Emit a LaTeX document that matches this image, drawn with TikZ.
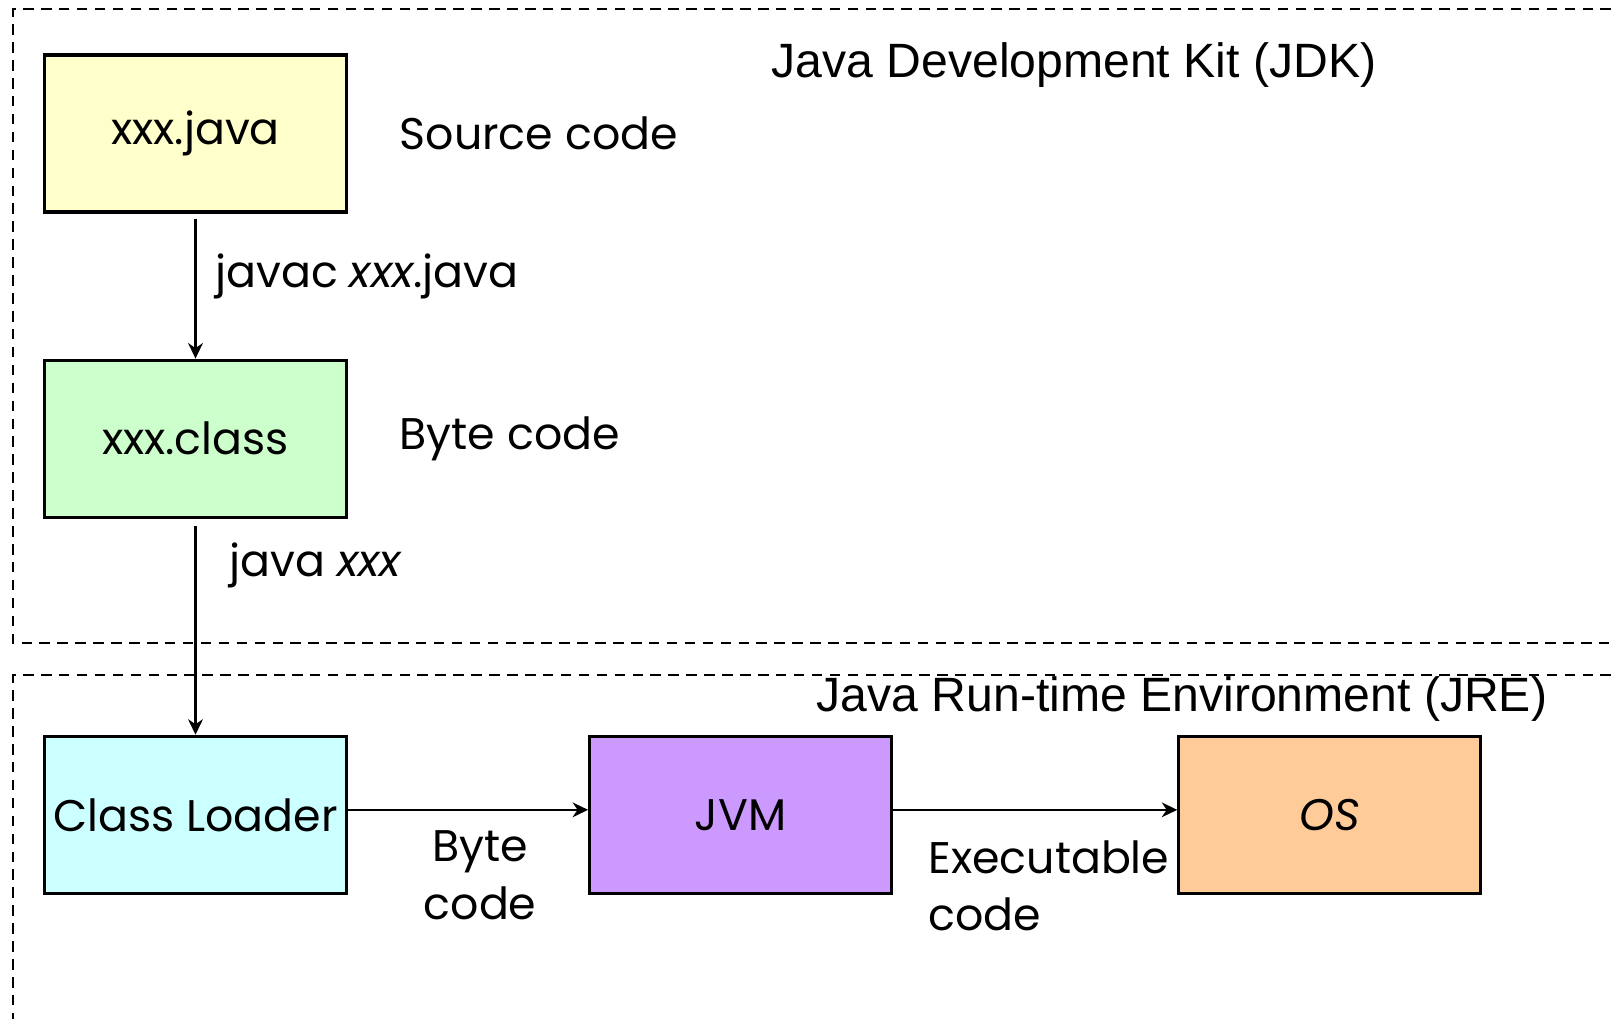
\documentclass[tikz,border=0pt]{standalone}
\usepackage{fontspec}
\setmainfont{Poppins}
\newfontfamily\arialfont{Liberation Sans}
\usepackage{tikz}
\usetikzlibrary{arrows.meta, positioning}

\definecolor{srcyellow}{HTML}{FFFFCC}
\definecolor{bytegreen}{HTML}{CCFFCC}
\definecolor{loadcyan}{HTML}{CCFFFF}
\definecolor{jvmpurple}{HTML}{CC99FF}
\definecolor{osorange}{HTML}{FFCC99}

\begin{document}
\begin{tikzpicture}[
    font=\fontsize{12.6}{16.3}\selectfont,
    box/.style={draw, line width=0.9pt, minimum width=3.02cm, minimum height=1.57cm, inner sep=0pt},
    txt/.style={inner sep=0pt, align=left},
    title/.style={inner sep=0pt, font=\arialfont\fontsize{13.7}{16}\selectfont},
    frame/.style={dashed, line width=0.75pt, dash pattern=on 3pt off 2.1pt},
    arrow/.style={-{Stealth[length=4.4pt, width=4.2pt, inset=1.4pt]}, line width=0.6pt}
    ]

    \useasboundingbox (0,0) rectangle (16.11,-10.19);

    % JDK and JRE frames, both open to the right
    \draw[frame] (16.11,-0.09) -| (0.13,-6.43) -- (16.11,-6.43);
    \draw[frame] (16.11,-6.75) -| (0.13,-10.19);
    \node[title] (jdk) at (10.74,-0.65) {Java Development Kit (JDK)};
    \node[title] (jre) at (11.82,-6.99) {Java Run-time Environment (JRE)};

    \node[box, fill=srcyellow] (java) at (1.955,-1.335) {xxx.java};
    \node[box, fill=bytegreen, below=1.45cm of java] (class) {xxx.class};
    \node[box, fill=loadcyan, below=2.16cm of class] (loader) {Class Loader};
    \node[box, fill=jvmpurple, right=2.4cm of loader] (jvm) {JVM};
    \node[box, fill=osorange, right=2.84cm of jvm] (os) {\textit{OS}};

    \node[txt, right=0.51cm of java] (src) {Source code};
    \node[txt, right=0.51cm of class] (byte) {Byte code};

    \draw [arrow, shorten <=0.05cm] (java) -- node[txt, pos=0.43, right=0.19cm] (javac) {javac \textit{xxx}.java} (class);
    \draw [arrow, shorten <=0.07cm] (class) -- node[txt, pos=0.215, right=0.33cm] (run) {java \textit{xxx}} (loader);
    \draw [arrow] ([yshift=0.05cm]loader.east) -- node[txt, pos=0.55, below=0.2cm, align=center] (bc) {Byte\\code} ([yshift=0.05cm]jvm.west);
    \draw [arrow] ([yshift=0.05cm]jvm.east) -- node[txt, pos=0.12, anchor=north west, yshift=-0.3cm] (ec) {Executable\\code} ([yshift=0.05cm]os.west);

\end{tikzpicture}
\end{document}
